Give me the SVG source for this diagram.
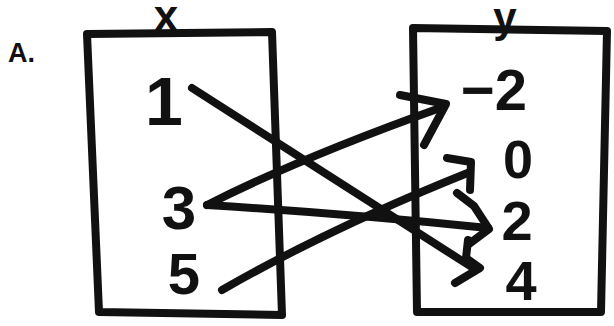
<svg xmlns="http://www.w3.org/2000/svg" width="614" height="326" viewBox="0 0 614 326">
<style>
.box{fill:none;stroke:#111;stroke-width:8;stroke-linejoin:round;stroke-linecap:round}
.ln{fill:none;stroke:#111;stroke-width:8;stroke-linecap:round;stroke-linejoin:round}
.d{font-family:"Liberation Sans",Arial,sans-serif;font-weight:bold;fill:#111;text-anchor:middle}
</style>
<rect width="614" height="326" fill="#fff"/>
<text class="d" x="8" y="62" font-size="27" style="text-anchor:start">A.</text>
<g id="setX">
<polygon class="box" points="87,34 272,32 282,315 99,312"/>
<text class="d" x="166" y="31" font-size="44">x</text>
</g>
<g id="setY">
<polygon class="box" points="413,28 607,31 601,312 417,312"/>
<text class="d" x="505" y="32" font-size="42">y</text>
</g>
<g id="x1"><text class="d" x="164" y="125" font-size="68">1</text></g>
<g id="x3"><text class="d" x="179" y="229" font-size="62">3</text></g>
<g id="x5"><text class="d" x="184" y="294" font-size="58">5</text></g>
<g id="yn2"><text class="d" x="494" y="110" font-size="58">−2</text></g>
<g id="y0"><text class="d" x="518" y="178" font-size="54">0</text></g>
<g id="y2"><text class="d" x="517" y="240" font-size="56">2</text></g>
<g id="y4"><text class="d" x="521" y="300" font-size="56">4</text></g>
<g id="connectors">
<path class="ln" d="M192,88 L470,266"/>
<path class="ln" d="M457,193 L474,206 L489,229 L469,244"/>
<path class="ln" d="M468,240 L466,258 L480,268 L455,283"/>
<path class="ln" d="M207,205 Q300,158 440,108"/>
<path class="ln" d="M400,95 L446,104 L424,145"/>
<path class="ln" d="M207,205 Q350,214 488,228"/>
<path class="ln" d="M222,290 Q330,228 470,172"/>
<path class="ln" d="M447,158 L471,162 L470,190"/>
</g>
</svg>
